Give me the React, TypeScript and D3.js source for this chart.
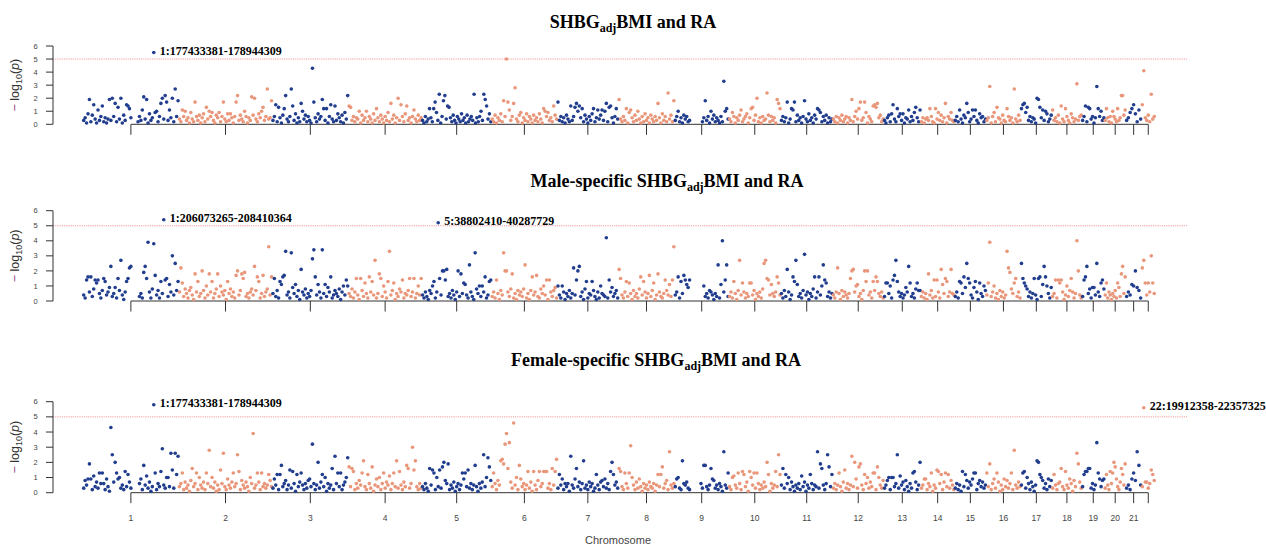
import React, { useRef, useEffect } from 'react';
import * as d3 from 'd3';

const _ = null; // no SNP plotted here (centromere / heterochromatin gap)

const chromosomes = ['1', '2', '3', '4', '5', '6', '7', '8', '9', '10', '11', '12', '13', '14', '15', '16', '17', '18', '19', '20', '21', '22'];
// plotted span of each chromosome, in Mb
const chromSpan = [249, 243, 198, 191, 181, 171, 159, 146, 141, 135, 135, 133, 96, 88, 82, 90, 81, 78, 59, 55, 41, 35];

// -log10(p) x 10, one list per chromosome, in genomic order
const overallP: (number | null)[][] = [
  [3,5,1,8,19,2,7,15,4,1, 11,3,6,14,2,5,1,4,19,3, 20,6,16,2,13,4,20,1,7,3, 15,14,12,5,_,_,_,_,2,6, 3,11,21,4,19,1,8,3,5,55, 9,10,2,6,16,20,4,22,17,3, 11,5,20,2,27,6,18],
  [4,2,11,6,10,3,5,1,9,4, 2,17,6,3,7,1,5,8,2,13, 4,10,6,9,3,1,7,5,9,2, 6,17,4,2,8,3,8,5,1,6, 17,22,3,7,4,2,10,6,1,5, 3,21,7,20,4,2,8,5,10,13, 3,6,27,4,5,18],
  [3,6,15,2,13,5,1,7,12,22, 4,2,6,27,14,3,8,1,5,2, 16,10,4,7,2,6,3,1,43,17, 5,2,8,4,6,19,12,3,12,1, 6,15,4,2,14,3,8,5,2,7, 1,9,4,22],
  [14,13,3,6,2,5,4,10,1,7, 3,5,10,2,6,4,1,8,3,12, 5,2,7,4,1,6,3,9,2,16, 4,7,1,5,20,3,15,6,2,8, 14,3,5,1,6,11,4,2,7,3, 5],
  [3,1,6,2,4,12,5,2,12,17, 9,3,23,1,6,18,22,4,14,13, 5,2,7,3,1,6,4,2,8,3, 5,1,7,2,4,6,3,23,1,5, 2,6,10,3,23,19,14,4,8,2],
  [4,2,7,1,5,3,8,2,18,6, 50,17,11,3,6,16,28,4,2,7, 9,1,5,3,8,2,6,4,1,7, 3,5,2,8,4,1,12,10,6,9, 3,5,2,14,7,4],
  [17,3,6,2,5,1,7,4,2,14, 3,6,13,16,10,14,5,12,2,7, 4,1,6,3,8,12,2,5,11,4, 7,11,3,10,16,2,13,14,5,1, 6,12,4],
  [19,4,2,6,3,12,1,9,11,5, 2,7,3,10,4,1,6,2,8,3, 5,1,7,4,2,6,3,16,5,1, 8,3,6,2,24,4,7,2,18],
  [3,6,10,2,5,1,7,4,6,2, 3,_,_,_,_,_,_,_,_,2, 5,18,3,6,1,10,4,7,2,5, 3,1,6,2,33,10,12,4],
  [4,2,9,6,1,5,3,7,11,2, 4,6,8,1,5,12,13,3,7,20, 2,5,1,6,3,4,24,7,2,6, 3,5,1,19,16,12],
  [3,6,2,5,17,1,4,12,11,17, 2,7,3,5,1,6,18,4,2,8, 3,5,1,7,4,12,11,9,2,6, 3,7,1,5,2,4],
  [4,2,6,1,5,3,7,2,4,6, 1,5,3,19,2,6,10,4,12,17, 3,5,17,9,1,6,4,2,14,15, 13,16,5,7,2,4],
  [3,1,5,7,2,8,15,4,2,12, 6,8,3,8,1,5,4,11,2,6, 3,9,13,5,2,11],
  [2,5,1,4,5,3,12,6,2,1, 12,4,9,3,7,2,5,16,1,6, 4,9,3,2],
  [3,6,2,11,4,1,7,5,16,9, 2,4,11,6,11,3,1,8,5,6, 2,4],
  [3,5,29,1,6,9,2,13,5,4, 1,7,3,2,12,6,3,5,1,27, 4,2,7,3],
  [12,15,16,9,13,3,6,2,5,4, 1,20,19,13,5,11,3,10,8,2, 4,7],
  [11,3,5,2,7,1,14,4,2,12, 6,3,1,8,5,2,4,31,3,6, 7],
  [3,6,14,2,13,12,4,6,1,5, 29,12,6,10,3,5],
  [3,12,5,2,6,1,10,6,4,2, 12,3,5,22,22,7,11],
  [3,5,9,12,15,8,2,11,4],
  [15,41,5,3,7,2,23,4,6],
];

const maleP: (number | null)[][] = [
  [4,2,14,16,6,16,3,8,14,12, 14,5,2,7,15,13,4,6,9,23, 3,5,9,2,15,7,27,4,1,6, 13,15,22,23,_,_,_,_,_,3, 5,2,19,23,15,39,6,2,8,38, 17,4,7,2,13,5,54,14,15,3, 11,6,30,4,25,7,13],
  [6,22,12,3,8,5,2,7,9,4, 1,18,6,13,3,5,20,7,2,10, 4,18,6,13,2,5,8,18,3,10, 6,4,7,1,13,5,8,3,6,2, 17,20,4,7,18,15,19,3,5,2, 6,8,4,23,7,16,13,2,5,17, 3,6,8,36,4,16],
  [5,15,3,7,2,13,11,16,17,33, 4,6,2,32,9,5,11,3,7,1, 21,6,4,8,2,5,3,7,28,34, 16,4,11,6,2,34,5,11,3,9, 6,16,2,4,7,5,3,8,1,6, 10,4,14,10],
  [5,3,8,2,6,15,4,1,15,7, 3,12,5,2,16,6,13,4,27,2, 5,18,15,3,10,6,2,13,33,4, 7,12,1,5,3,8,6,14,2,5, 4,7,15,3,6,15,2,5,10,4, 15],
  [4,2,6,3,1,7,5,10,13,2, 6,52,15,4,20,20,14,21,3,5, 2,7,4,1,6,20,3,18,5,12, 11,4,2,24,6,3,1,32,8,5, 10,3,10,6,16,2,4,13,14],
  [3,6,2,14,5,1,7,4,32,20, 20,6,3,8,18,2,5,1,7,4, 6,3,8,24,2,5,1,7,16,4, 6,17,3,2,8,5,10,4,14,1, 14,6,3,7,9,2],
  [10,4,2,10,6,1,5,3,7,2, 5,22,4,14,20,23,3,6,1,8, 13,2,5,4,13,7,3,1,6,2, 10,5,4,3,42,2,14,6,9,3, 5,7,2],
  [21,15,4,2,6,13,3,12,5,1, 7,3,5,2,8,16,4,13,6,2, 5,17,3,7,12,1,4,18,6,3, 2,5,14,7,4,11,3,14,36],
  [4,6,16,2,13,5,17,14,11,9, 14,_,_,_,_,_,_,_,_,_, 10,3,5,2,7,6,4,1,5,3, 24,2,11,40,6,14,24,3],
  [3,6,2,13,5,1,7,27,4,12, 6,2,5,3,12,12,4,7,1,5, 3,6,2,8,25,27,15,14,4,11, 5,3,6,16,12,4],
  [5,2,7,3,21,6,1,4,16,13, 27,11,3,5,2,7,31,4,6,1, 5,3,8,16,2,6,16,4,10,24, 14,12,3,6,2,5],
  [4,2,6,22,5,1,7,3,6,4, 2,5,15,20,21,6,10,11,3,5, 1,7,20,13,20,4,6,2,13,7, 16,13,5,3,6,2],
  [3,12,12,5,10,2,14,17,27,13, 6,3,5,2,4,9,6,23,12,3, 5,2,8,12,7,7],
  [3,6,2,5,1,18,4,7,2,14, 3,14,6,2,21,11,5,15,13,3, 6,21,5,4],
  [3,6,2,13,12,5,16,9,25,15, 12,4,2,9,13,6,1,12,5,3, 10,7],
  [4,12,39,3,6,10,2,5,1,7, 3,6,2,4,33,22,19,8,5,12, 15,3,6,2],
  [25,15,12,10,8,3,6,2,5,15, 4,1,15,16,3,11,23,16,10,5, 2,9],
  [3,5,14,2,14,12,14,6,1,4, 10,3,7,15,6,2,5,40,20,4, 2],
  [3,14,16,23,5,8,2,9,9,4, 25,6,3,12,14,8],
  [4,12,2,6,4,1,5,3,7,2, 12,9,3,18,23,5,16],
  [3,6,4,11,10,20,9,7,2],
  [22,27,12,4,12,6,30,12,5],
];

const femaleP: (number | null)[][] = [
  [3,8,5,9,19,9,2,11,4,7, 3,13,6,13,6,2,9,4,1,43, 25,7,20,13,9,10,3,5,2,14, 4,12,7,3,_,_,_,_,_,6, 9,2,18,5,11,3,7,1,4,58, 13,2,6,4,14,29,5,3,10,10, 4,26,15,3,26,12,24],
  [4,6,13,2,7,3,5,1,8,16, 4,6,13,2,10,5,3,7,2,13, 6,28,4,10,3,7,1,5,2,15, 6,26,4,2,9,5,3,7,13,4, 6,25,14,2,8,5,3,7,4,1, 10,6,39,3,5,13,7,2,13,4, 6,3,5,12,8,4],
  [3,9,5,12,2,12,18,4,6,8, 2,5,15,3,14,6,1,12,4,7, 13,5,2,6,3,8,9,4,32,6, 2,5,20,3,7,12,4,10,1,6, 3,5,16,2,24,6,13,4,13,2, 5,7,10,23],
  [17,4,16,14,2,6,3,8,5,13, 21,4,2,12,6,3,17,1,5,9, 4,10,2,6,13,3,7,5,11,2, 6,13,4,21,3,14,5,2,7,4, 18,16,3,6,30,15,21,4,2,6, 3],
  [4,2,6,3,1,16,5,15,13,2, 10,4,15,3,17,20,8,6,19,2, 5,3,7,1,4,6,2,5,13,9, 13,4,15,3,6,2,5,18,4,1, 6,3,7,25,4,10,23,17,8],
  [4,13,6,2,8,5,21,22,19,32, 39,16,33,7,3,46,5,10,2,18, 9,4,6,2,5,14,3,7,1,14, 5,2,8,14,4,6,14,14,14,3, 6,2,16,5,14,22],
  [3,12,5,9,2,6,4,6,1,24, 5,3,9,16,4,7,2,6,21,3, 5,2,7,4,6,1,3,12,5,2, 7,8,4,9,3,6,2,14,20,12, 5,7,3],
  [16,14,4,2,13,6,3,13,31,10, 5,2,7,3,9,4,1,6,3,5, 2,7,4,3,6,1,5,12,4,12, 17,3,6,8,2,27,5,3,6],
  [4,9,10,3,2,21,6,5,7,3, 2,_,_,_,_,_,_,_,6,3, 18,18,4,2,5,16,9,8,3,5, 2,6,4,1,27,5,3,13],
  [4,2,10,11,5,3,13,6,2,14, 12,4,7,1,14,10,5,13,3,13, 6,2,5,3,7,4,20,12,1,6, 3,5,14,4,25,12],
  [5,16,3,12,6,10,2,7,4,1, 5,3,6,2,11,4,7,1,5,3, 12,6,2,5,4,27,3,19,16,5, 2,6,25,17,4,12],
  [3,6,2,5,13,4,1,7,15,3, 6,2,5,24,4,20,9,3,17,19, 5,2,12,6,10,3,7,4,13,13, 2,17,10,5,3,8],
  [3,5,8,10,2,10,10,4,6,25, 3,11,5,7,2,8,4,1,6,3, 13,14,7,2,5,20],
  [3,5,9,9,2,6,4,13,1,5, 3,15,14,6,12,2,7,13,4,12, 3,8,5,2],
  [3,6,2,5,1,14,4,12,8,3, 7,5,9,13,13,2,6,8,4,7, 3,5],
  [13,4,19,2,6,9,3,13,7,1, 5,2,9,4,8,3,6,13,2,28, 5,3,7,4],
  [5,13,14,3,10,6,2,7,4,1, 5,21,20,12,10,8,3,6,2,9, 4,8],
  [3,12,5,2,6,7,16,4,2,14, 5,3,9,6,1,8,4,26,19,7, 3],
  [4,12,14,14,16,16,3,6,2,5, 33,13,9,4,8,9],
  [3,12,5,2,14,6,13,20,17,9, 4,2,7,16,12,5,19],
  [3,5,2,9,13,8,27,18,5],
  [4,56,7,7,3,6,15,12,8],
];

const panelData = [overallP, maleP, femaleP];
const panelTitles = [
  ['SHBG', 'adj', 'BMI and RA'],
  ['Male-specific SHBG', 'adj', 'BMI and RA'],
  ['Female-specific SHBG', 'adj', 'BMI and RA'],
];
const yTicks = [0, 1, 2, 3, 4, 5, 6];
const suggestiveLine = 5;

// labelled top hits: panel index, chromosome number, region label
const hits = [
  { panel: 0, chr: 1, label: '1:177433381-178944309' },
  { panel: 1, chr: 1, label: '1:206073265-208410364' },
  { panel: 1, chr: 5, label: '5:38802410-40287729' },
  { panel: 2, chr: 1, label: '1:177433381-178944309' },
  { panel: 2, chr: 22, label: '22:19912358-22357325' },
];

const BLUE = '#213d8e';
const SALMON = '#e9967a';

function App() {
  const ref = useRef<SVGSVGElement>(null);

  useEffect(() => {
    const svg = d3.select(ref.current);
    svg.selectAll('*').remove();

    const width = 1266, height = 545;
    svg.attr('width', width).attr('height', height);

    const starts = Array.from(d3.cumsum([0, ...chromSpan]));
    const total = d3.sum(chromSpan);
    const x = d3.scaleLinear().domain([0, total]).range([83, 1155]);
    const tickX = chromSpan.map((s, i) => x(starts[i] + s / 2));

    // like R's axis(): drop a tick label that would crowd the previous one
    const shownLabel: boolean[] = [];
    let lastShown = -Infinity;
    tickX.forEach((t, i) => {
      const ok = t - lastShown >= 15;
      shownLabel.push(ok);
      if (ok) lastShown = t;
    });

    // plotting regions for the three stacked panels
    const layout = [
      { top: 46, bottom: 124.3, titleX: 633, titleY: 28.3 },
      { top: 210.7, bottom: 301, titleX: 667, titleY: 186.5 },
      { top: 401.7, bottom: 492.7, titleX: 656, titleY: 365.7 },
    ];

    const posX = (ci: number, j: number, n: number) =>
      x(starts[ci] + ((j + 0.5) / n) * chromSpan[ci]);

    panelData.forEach((data, pi) => {
      const L = layout[pi];
      const y = d3.scaleLinear().domain([0, 6]).range([L.bottom, L.top]);
      const g = svg.append('g');

      // title
      const [pre, sub, post] = panelTitles[pi];
      const title = g.append('text')
        .attr('x', L.titleX)
        .attr('y', L.titleY)
        .attr('text-anchor', 'middle')
        .style('font-family', '"Liberation Serif", "Times New Roman", serif')
        .style('font-weight', 'bold')
        .style('font-size', '18px')
        .attr('fill', '#000');
      title.append('tspan').text(pre);
      title.append('tspan').attr('dy', 4).style('font-size', '12px').text(sub);
      title.append('tspan').attr('dy', -4).text(post);

      // suggestive line
      g.append('line')
        .attr('x1', 53).attr('x2', 1187)
        .attr('y1', y(suggestiveLine)).attr('y2', y(suggestiveLine))
        .attr('stroke', '#f39a9a')
        .attr('stroke-width', 1)
        .attr('stroke-dasharray', '1.2,1');

      // y axis
      const ya = g.append('g');
      ya.append('line')
        .attr('x1', 53).attr('x2', 53)
        .attr('y1', y(0)).attr('y2', y(6))
        .attr('stroke', '#333');
      yTicks.forEach((t) => {
        ya.append('line')
          .attr('x1', 46).attr('x2', 53)
          .attr('y1', y(t)).attr('y2', y(t))
          .attr('stroke', '#333');
        ya.append('text')
          .attr('x', 35.5).attr('y', y(t))
          .attr('dy', '0.35em')
          .attr('text-anchor', 'middle')
          .style('font-family', '"Liberation Sans", Arial, sans-serif')
          .style('font-size', '7.5px')
          .attr('fill', '#444')
          .text(t);
      });

      const yl = g.append('text')
        .attr('transform', `translate(19,${y(3)}) rotate(-90)`)
        .attr('text-anchor', 'middle')
        .style('font-family', '"Liberation Sans", Arial, sans-serif')
        .style('font-size', '12.5px')
        .attr('fill', '#333');
      yl.append('tspan').attr('fill', '#8a3b78').text('\u2212 ');
      yl.append('tspan').text('log');
      yl.append('tspan').attr('dy', 3).style('font-size', '9px').text('10');
      yl.append('tspan').attr('dy', -3).text('(');
      yl.append('tspan').style('font-style', 'italic').text('p');
      yl.append('tspan').text(')');

      // x axis
      g.append('line')
        .attr('x1', tickX[0]).attr('x2', tickX[tickX.length - 1])
        .attr('y1', y(0)).attr('y2', y(0))
        .attr('stroke', '#333');
      g.selectAll('.xt')
        .data(tickX)
        .join('line')
        .attr('x1', (d) => d).attr('x2', (d) => d)
        .attr('y1', y(0)).attr('y2', y(0) + 10.5)
        .attr('stroke', '#333');

      // points
      const pts: { px: number; py: number; c: string }[] = [];
      data.forEach((vals, ci) => {
        vals.forEach((v, j) => {
          if (v == null) return;
          pts.push({
            px: posX(ci, j, vals.length),
            py: y(v / 10),
            c: ci % 2 === 0 ? BLUE : SALMON,
          });
        });
      });
      g.append('g')
        .selectAll('circle')
        .data(pts)
        .join('circle')
        .attr('cx', (d) => d.px)
        .attr('cy', (d) => d.py)
        .attr('r', 1.8)
        .attr('fill', (d) => d.c);

      // hit labels
      hits.filter((h) => h.panel === pi).forEach((h) => {
        const vals = data[h.chr - 1];
        const j = d3.maxIndex(vals, (v) => (v == null ? -1 : v));
        const px = posX(h.chr - 1, j, vals.length);
        const py = y((vals[j] as number) / 10);
        g.append('text')
          .attr('x', px + 6)
          .attr('y', py + 2)
          .style('font-family', '"Liberation Serif", "Times New Roman", serif')
          .style('font-weight', 'bold')
          .style('font-size', '12px')
          .attr('fill', '#000')
          .text(h.label);
      });

      // chromosome labels only under the last panel
      if (pi === panelData.length - 1) {
        g.selectAll('.xl')
          .data(chromosomes.filter((c, i) => shownLabel[i]))
          .join('text')
          .attr('x', (d) => tickX[chromosomes.indexOf(d)])
          .attr('y', 521)
          .attr('text-anchor', 'middle')
          .style('font-family', '"Liberation Sans", Arial, sans-serif')
          .style('font-size', '8.5px')
          .attr('fill', '#444')
          .text((d) => d);
        g.append('text')
          .attr('x', 618)
          .attr('y', 543.5)
          .attr('text-anchor', 'middle')
          .style('font-family', '"Liberation Sans", Arial, sans-serif')
          .style('font-size', '11px')
          .attr('fill', '#444')
          .text('Chromosome');
      }
    });
  }, []);

  return (
    <svg
      ref={ref}
      style={{ position: 'absolute', left: 0, top: 0, display: 'block', background: '#fff' }}
    ></svg>
  );
}

export default App;
